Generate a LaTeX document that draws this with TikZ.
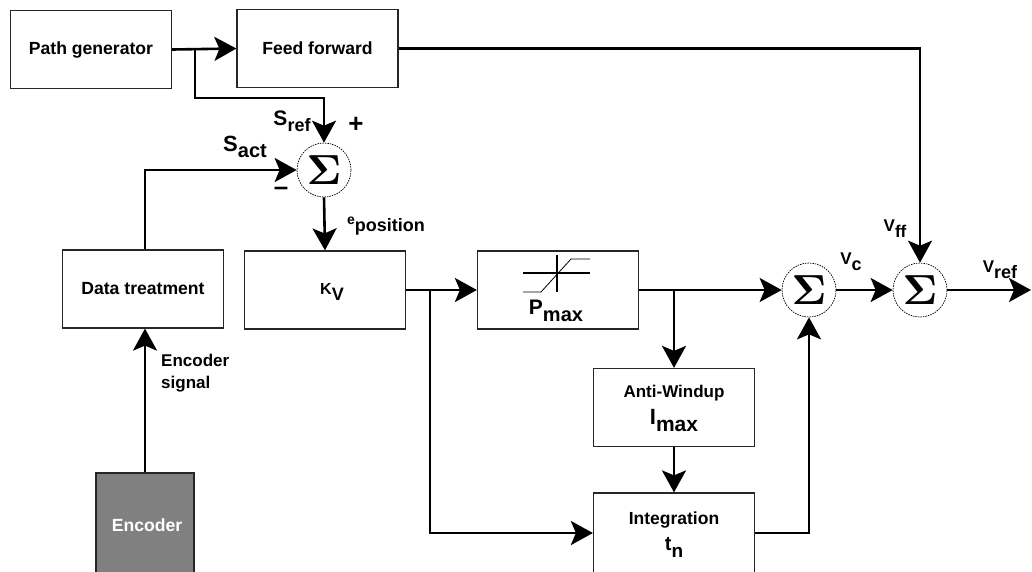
\documentclass[tikz,border=0pt]{standalone}
\usepackage{fontspec}
\setmainfont{Liberation Sans}
\usetikzlibrary{arrows.meta}
\newcommand\fsz[1]{\fontsize{#1}{#1}\selectfont}
% main symbol, its size, subscript, its size, drop of the subscript
\newcommand\sublbl[5]{{\fsz{#2}#1}\raisebox{-#5}{\fsz{#4}#3}}
\newcommand\bigsigma{\scalebox{4.2}{\normalsize\boldmath$\Sigma$}}
\begin{document}
\begin{tikzpicture}[x=1pt,y=-1pt,font=\bfseries\fsz{17.6},
  blk/.style={draw=black!85,line width=1.2pt,minimum width=161pt,minimum height=78pt,inner sep=0pt,align=center},
  sumnode/.style={circle,draw,dash pattern=on 1.5pt off 1pt,line width=0.7pt,minimum size=54pt,inner sep=0pt},
  conn/.style={line width=2.6pt,-{Stealth[length=22pt,width=24pt,inset=5pt]}},
  lbl/.style={inner sep=0pt}]
\useasboundingbox (0,0) rectangle (1032,571);

% blocks
\node[blk] (pg) at (91,49.5) {Path generator};
\node[blk] (ff) at (317.5,48.5) {Feed forward};
\node[sumnode] (s1) at (324,170) {};
\node[blk] (dt) at (143,289) {Data treatment};
\node[blk] (kv) at (325,290) {};
\node[lbl] (kvt) at (332,292) {\sublbl{K}{16}{V}{18}{6pt}};
\node[blk] (sat) at (558,290) {};
\node[blk] (aw) at (674,407.5) {};
\node[blk,minimum height=80pt] (int) at (674,533) {};
\node[sumnode] (s2) at (809,290) {};
\node[sumnode] (s3) at (920,290) {};
\node[draw=black!85,line width=1.2pt,fill=black!50,minimum width=98pt,minimum height=100pt,inner sep=0pt] (enc) at (145,523) {};
\node[lbl,text=white] (enct) at (147,525) {Encoder};

% sigma signs of the summing points
\node[lbl] (s1g) at (s1) {\bigsigma};
\node[lbl] (s2g) at (s2) {\bigsigma};
\node[lbl] (s3g) at (s3) {\bigsigma};

% texts inside the lower blocks
\node[lbl] (awt) at (674,393) {\fsz{17}Anti-Windup};
\node[lbl] (awi) at (674,421) {\sublbl{I}{22}{max}{21}{7pt}};
\node[lbl] (intt) at (674,520) {\fsz{17.5}Integration};
\node[lbl] (intn) at (674,547) {\sublbl{t}{20}{n}{19}{7pt}};

% saturation pictogram
\draw[line width=2pt] (523,273) -- (590,273);
\draw[line width=2pt] (557,255) -- (557,292);
\draw[line width=0.8pt] (523,292) -- (541,292) -- (571,259) -- (590,259);
\node[lbl] (pmax) at (556,311) {\sublbl{P}{21}{max}{20}{7pt}};

% branch points
\coordinate (b1) at (195,49.5);
\coordinate (c1) at (324,98);
\coordinate (b2) at (430,290);
\coordinate (b3) at (674,290);
\coordinate (out) at (1031,290);

% connectors
\draw[conn] (pg.east) -- (ff.west);
\draw[conn] (b1) |- (c1) -- (s1.north);
\draw[conn] (enc.north |- dt.north) |- (s1.west);
\draw[conn] (s1.south) -- (kv.north);
\draw[conn] (enc.north) -- (enc.north |- dt.south);
\draw[conn] (kv.east) -- (sat.west);
\draw[conn] (b2) |- (int.west);
\draw[conn] (sat.east) -- (s2.west);
\draw[conn] (b3) -- (aw.north);
\draw[conn] (aw.south) -- (int.north);
\draw[conn] (int.east) -| (s2.south);
\draw[conn] (s2.east) -- (s3.west);
\draw[conn] (ff.east) -| (s3.north);
\draw[conn] (s3.east) -- (out);

% signal labels
\node[lbl] (sref) at (292,121) {\sublbl{S}{21}{ref}{18}{6pt}};
\node[lbl] (plus) at (356,125) {\fsz{26}+};
\node[lbl] (sact) at (245,147) {\sublbl{S}{22}{act}{20}{6pt}};
\node[lbl] (minus) at (281,191) {\fsz{26}\textendash};
\node[lbl] (epos) at (386,226) {\raisebox{3pt}{\fsz{14}e}\raisebox{-4pt}{\fsz{18}position}};
\node[lbl,align=left,anchor=west] (encs) at (161,373) {\fsz{17}Encoder\\[4pt]\fsz{17}signal};
\node[lbl] (vc) at (851,262) {\sublbl{V}{17}{c}{18}{6pt}};
\node[lbl] (vff) at (895,229) {\sublbl{V}{17}{ff}{17}{6pt}};
\node[lbl] (vref) at (1000,270) {\sublbl{V}{17}{ref}{18}{6pt}};
\end{tikzpicture}
\end{document}
